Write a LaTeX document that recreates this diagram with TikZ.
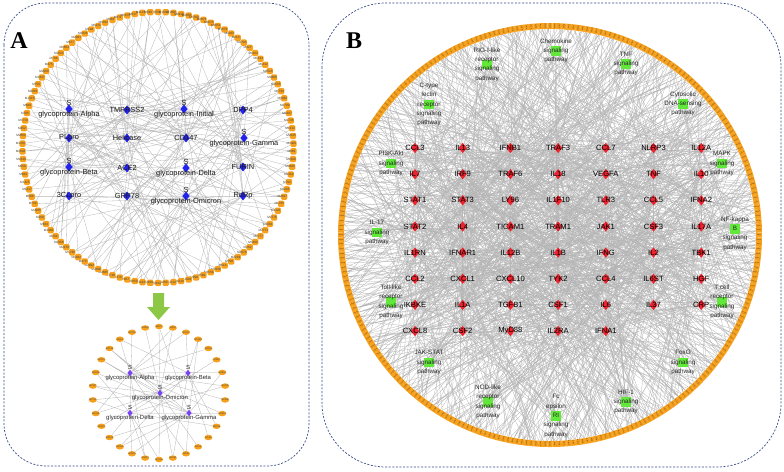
\documentclass[tikz,border=0pt]{standalone}
\usepackage{fontspec}
\setmainfont{Liberation Sans}
\newfontfamily\panelfont{Liberation Serif}
\usetikzlibrary{shapes.geometric,backgrounds}
\definecolor{orfill}{RGB}{246,160,28}
\definecolor{bluedia}{RGB}{35,35,235}
\definecolor{purpdia}{RGB}{125,65,245}
\definecolor{reddia}{RGB}{236,36,46}
\definecolor{pathgreen}{RGB}{98,232,58}
\definecolor{arrowgreen}{RGB}{140,200,70}
\definecolor{panelline}{RGB}{55,75,135}
\definecolor{edgegray}{RGB}{180,180,180}
\tikzset{
  panelbox/.style={draw=panelline, line width=0.7pt, dash pattern=on 2pt off 1.6pt},
  edgeA/.style={draw=edgegray, line width=0.3pt},
  edgeB/.style={draw=edgegray, line width=0.28pt},
  ringA/.style={rectangle, rounded corners=1.3pt, fill=orfill, minimum size=6.3pt, inner sep=0pt},
  ringAlbl/.style={font=\fontsize{3.1}{3.1}\selectfont, text=black!75, inner sep=0pt},
  ringS/.style={ellipse, fill=orfill, minimum width=8pt, minimum height=5.5pt, inner sep=0pt},
  ringSlbl/.style={font=\fontsize{2.4}{2.4}\selectfont, text=black!70, inner sep=0pt},
  ringB/.style={rectangle, fill=orfill, minimum width=6pt, minimum height=4.8pt, inner sep=0pt},
  ringBlbl/.style={font=\fontsize{1.5}{1.5}\selectfont, text=black!80, inner sep=0pt},
  bdia/.style={diamond, fill=bluedia, minimum width=7.5pt, minimum height=9pt, inner sep=0pt},
  pdia/.style={diamond, fill=purpdia, minimum width=5.5pt, minimum height=6.5pt, inner sep=0pt},
  rdia/.style={diamond, fill=reddia, minimum width=8.5pt, minimum height=10.5pt, inner sep=0pt},
  gsq/.style={rectangle, fill=pathgreen, minimum width=10.5pt, minimum height=9.5pt, inner sep=0pt},
  dlblA/.style={font=\fontsize{7.4}{8}\selectfont, text=black!90, inner sep=0pt},
  dlblS/.style={font=\fontsize{5.9}{6.5}\selectfont, text=black!85, inner sep=0pt},
  glbl/.style={font=\fontsize{7.6}{8}\selectfont, text=black, inner sep=0pt},
  plbl/.style={font=\fontsize{6.3}{9.3}\selectfont, text=black!85, align=center, inner sep=0pt},
  panelletter/.style={font=\panelfont\bfseries\fontsize{24}{24}\selectfont, inner sep=0pt},
}
\begin{document}
\begin{tikzpicture}[x=1pt,y=-1pt]
\useasboundingbox (0,0) rectangle (784,471);
\pgfmathsetseed{20231}

% ---------- Panel A : big ring ----------
\foreach \i in {1,...,110}{
  \pgfmathsetmacro\ang{90-(\i-1)*(360/110)}
  \pgfmathrandominteger{\rn}{100}{2999}
  \node[ringA, label={[ringAlbl,xshift=-2pt]center:M\rn}] (a\i) at ({158+135.5*cos(\ang)},{147.5-135.5*sin(\ang)}) {};
}
% blue diamonds with centred label
\foreach \n/\x/\y/\t in {1/127/110/TMPRSS2, 2/243/110/DPP4, 3/69/138/PLpro, 4/127/138/Helicase,
  5/186/138/CD147, 6/127/168/ACE2, 7/243/167/FURIN, 8/69/196/3CLpro, 9/127/196/GRP78, 10/243/196/RdRp}{
  \node[bdia, label={[dlblA]center:\t}] (b\n) at (\x,\y) {};
}
% blue diamonds of the S glycoproteins
\foreach \n/\x/\y/\t in {11/69/109/Alpha, 12/184/109/Initial, 13/244/138/Gamma, 14/69/167/Beta,
  15/186/168/Delta, 16/186/196/Omicron}{
  \node[bdia, label={[dlblA,yshift=6pt]center:S}, label={[dlblA,yshift=-6pt]center:glycoprotein-\t}] (b\n) at (\x,\y) {};
}

% ---------- Panel A : small ring ----------
\foreach \i in {1,...,30}{
  \pgfmathsetmacro\ang{90-(\i-1)*12}
  \pgfmathrandominteger{\rn}{100}{2999}
  \node[ringS, label={[ringSlbl]center:M\rn}] (s\i) at ({159+66.5*cos(\ang)},{393-66.5*sin(\ang)}) {};
}
\foreach \n/\x/\y/\t in {1/130/373/Alpha, 2/188/373/Beta, 3/160/393/Omicron, 4/130/413/Delta, 5/189/413/Gamma}{
  \node[pdia, label={[dlblS,yshift=5.5pt]center:S}, label={[dlblS,yshift=-5pt]center:glycoprotein-\t}] (p\n) at (\x,\y) {};
}

% green arrow
\fill[arrowgreen] (153,293) -- (164,293) -- (164,307) -- (170,307) -- (158.5,320) -- (147,307) -- (153,307) -- cycle;

% ---------- Panel B : ring ----------
\foreach \i in {1,...,280}{
  \pgfmathsetmacro\ang{90-(\i-1)*(360/280)}
  \pgfmathrandominteger{\rn}{100}{2999}
  \node[ringB, rotate=\ang, label={[ringBlbl,rotate=\ang]center:M\rn}] (c\i) at ({550+209*cos(\ang)},{235-209*sin(\ang)}) {};
}
% red gene diamonds
\foreach \k/\t in {1/CCL3,2/IL13,3/IFNB1,4/TRAF3,5/CCL7,6/NLRP3,7/IL12A,
  8/IL7,9/IRF9,10/TRAF6,11/IL18,12/VEGFA,13/TNF,14/IL10,
  15/STAT1,16/STAT3,17/LY96,18/IL1F10,19/TLR3,20/CCL5,21/IFNA2,
  22/STAT2,23/IL4,24/TICAM1,25/TRAM1,26/JAK1,27/CSF3,28/IL17A,
  29/IL1RN,30/IFNAR1,31/IL12B,32/IL1B,33/IFNG,34/IL2,35/TBK1,
  36/CCL2,37/CXCL1,38/CXCL10,39/TYK2,40/CCL4,41/IL6ST,42/HGF,
  43/IKBKE,44/IL1A,45/TGFB1,46/CSF1,47/IL6,48/IL37,49/CRP,
  50/CXCL8,51/CSF2,52/MyD88,53/IL2RA,54/IFNA1}{
  \pgfmathsetmacro\cx{415+mod(\k-1,7)*47.7}
  \pgfmathsetmacro\cy{148+int((\k-1)/7)*26.15}
  \node[rdia, label={[glbl]center:\t}] (r\k) at (\cx,\cy) {};
}
% green pathway nodes
\node[gsq, label={[plbl]center:{RIG-I-like\\receptor\\signaling\\pathway}}] (g1) at (487,64.5) {};
\node[gsq, label={[plbl]center:{Chemokine\\signaling\\pathway}}] (g2) at (556,51) {};
\node[gsq, label={[plbl]center:{TNF\\signaling\\pathway}}] (g3) at (626,64) {};
\node[gsq, label={[plbl]center:{Cytosolic\\DNA-sensing\\pathway}}] (g4) at (683,104) {};
\node[gsq, label={[plbl]center:{C-type\\lectin\\receptor\\signaling\\pathway}}] (g5) at (429,104.5) {};
\node[gsq, label={[plbl]center:{PI3K-Akt\\signaling\\pathway}}] (g6) at (391,163.5) {};
\node[gsq, label={[plbl]center:{MAPK\\signaling\\pathway}}] (g7) at (722,163.5) {};
\node[gsq, label={[plbl]center:{IL-17\\signaling\\pathway}}] (g8) at (377,232.5) {};
\node[gsq, label={[plbl,yshift=-4.6pt]center:{NF-kappa\\B\\signaling\\pathway}}] (g9) at (735,229) {};
\node[gsq, label={[plbl]center:{Toll-like\\receptor\\signaling\\pathway}}] (g10) at (391,302) {};
\node[gsq, label={[plbl]center:{T cell\\receptor\\signaling\\pathway}}] (g11) at (722,302) {};
\node[gsq, label={[plbl]center:{JAK-STAT\\signaling\\pathway}}] (g12) at (429,362.5) {};
\node[gsq, label={[plbl]center:{FoxO\\signaling\\pathway}}] (g13) at (683,362.5) {};
\node[gsq, label={[plbl]center:{NOD-like\\receptor\\signaling\\pathway}}] (g14) at (488,402) {};
\node[gsq, label={[plbl]center:{Fc\\epsilon\\RI\\signaling\\pathway}}] (g15) at (556,416) {};
\node[gsq, label={[plbl]center:{HIF-1\\signaling\\pathway}}] (g16) at (626,402) {};

% panel letters
\node[panelletter] (labA) at (19,41) {A};
\node[panelletter] (labB) at (354,41) {B};

% ---------- background: panels and edges ----------
\begin{pgfonlayer}{background}
\draw[panelbox, rounded corners=42pt] (4,3) rectangle (309,466);
\draw[panelbox, rounded corners=64pt] (322,3) rectangle (781,467);
\foreach \i in {1,...,110}{
  \pgfmathrandominteger{\ra}{1}{16}
  \pgfmathrandominteger{\rb}{1}{16}
  \draw[edgeA] (a\i) -- (b\ra) (a\i) -- (b\rb);
}
\foreach \i in {1,...,30}{
  \pgfmathrandominteger{\ra}{1}{5}
  \pgfmathrandominteger{\rb}{1}{5}
  \draw[edgeA] (s\i) -- (p\ra) (s\i) -- (p\rb);
}
\foreach \i in {1,...,280}{
  \pgfmathrandominteger{\ra}{1}{54}
  \pgfmathrandominteger{\rb}{1}{54}
  \pgfmathrandominteger{\rc}{1}{54}
  \pgfmathrandominteger{\rf}{1}{54}
  \draw[edgeB] (c\i) -- (r\ra) (c\i) -- (r\rb) (c\i) -- (r\rc) (c\i) -- (r\rf);
}
\foreach \k in {1,...,54}{
  \pgfmathrandominteger{\ga}{1}{16}
  \pgfmathrandominteger{\gb}{1}{16}
  \pgfmathrandominteger{\gc}{1}{16}
  \pgfmathrandominteger{\rd}{1}{54}
  \pgfmathrandominteger{\re}{1}{54}
  \pgfmathrandominteger{\rg}{1}{54}
  \draw[edgeB] (r\k) -- (g\ga) (r\k) -- (g\gb) (r\k) -- (g\gc) (r\k) -- (r\rd) (r\k) -- (r\re) (r\k) -- (r\rg);
}
\end{pgfonlayer}
\end{tikzpicture}
\end{document}
